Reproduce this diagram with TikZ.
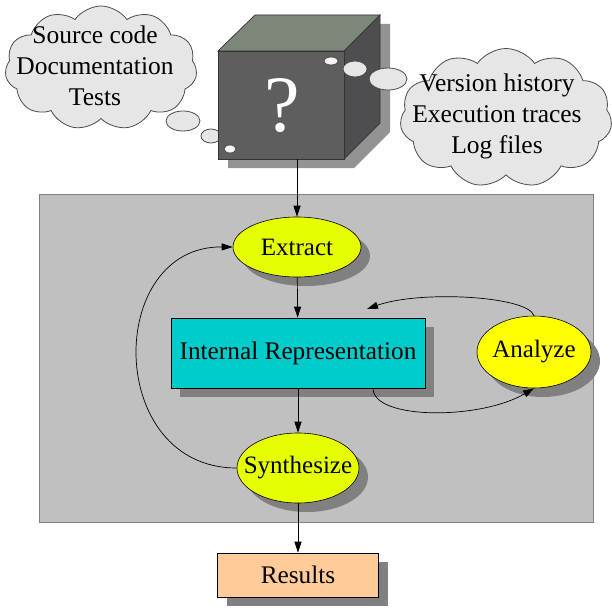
\documentclass[tikz,border=0pt]{standalone}
\usepackage{fontspec}
\setmainfont{Liberation Serif}
\usetikzlibrary{shapes.geometric,shapes.symbols,shadows,arrows.meta}
\definecolor{cloudgray}{RGB}{230,230,230}
\definecolor{panelgray}{RGB}{192,192,192}
\definecolor{shadegray}{RGB}{128,128,128}
\definecolor{cubetop}{RGB}{126,133,121}
\definecolor{cubefront}{RGB}{94,94,94}
\definecolor{cubeside}{RGB}{78,78,80}
\definecolor{stepyellow}{RGB}{230,255,0}
\definecolor{analyzeyellow}{RGB}{255,255,0}
\definecolor{reprcyan}{RGB}{0,204,204}
\definecolor{resultpeach}{RGB}{255,204,153}

\begin{document}
\begin{tikzpicture}[x=1pt,y=-1pt]
	\tikzstyle{every node}+=[inner sep=0pt]
	\tikzstyle{thought}=[draw=black!70, fill=cloudgray, line width=0.8pt]
	\tikzstyle{cloudbox}=[thought, cloud, cloud puffs=11, cloud puff arc=110, cloud ignores aspect]
	\tikzstyle{bubble}=[thought, ellipse]
	\tikzstyle{label}=[font=\fontsize{25.5}{31}\selectfont, align=center]
	\tikzstyle{shade}=[drop shadow={shadow xshift=9pt, shadow yshift=-9pt, opacity=1, fill=shadegray}]
	\tikzstyle{stage}=[ellipse, draw, line width=0.6pt, fill=stepyellow, shade, inner xsep=-12pt, font=\fontsize{25}{30}\selectfont]
	\tikzstyle{store}=[rectangle, draw, line width=0.6pt, shade, font=\fontsize{25.3}{30}\selectfont]
	\tikzstyle{flow}=[draw, line width=0.7pt, -{Triangle[length=11pt,width=7pt]}]
	\useasboundingbox (0,0) rectangle (612,607);
	\fill [white] (0,0) rectangle (612,607);
	\node [cloudbox, minimum width=192pt, minimum height=124pt] (srccloud) at (101,68) {};
	\node [label] (srctext) at (95,66) {Source code\\Documentation\\Tests};
	\node [cloudbox, minimum width=212pt, minimum height=139pt] (runcloud) at (506,118) {};
	\node [label] (runtext) at (497,116) {Version history\\Execution traces\\Log files};
	\node [bubble, minimum width=34pt, minimum height=20pt] (srcbubbleA) at (183,121) {};
	\node [bubble, minimum width=20pt, minimum height=14pt] (srcbubbleB) at (211,136) {};
	\fill [shadegray!85] (228,60) -- (265,24) -- (390,24) -- (390,132) -- (354,168) -- (228,168) -- cycle;
	\draw [black!80, line width=0.7pt, fill=cubetop] (218,51) -- (255,15) -- (380,15) -- (344,51) -- cycle;
	\draw [black!80, line width=0.7pt, fill=cubeside] (344,51) -- (380,15) -- (380,123) -- (344,159) -- cycle;
	\draw [black!80, line width=0.7pt, fill=cubefront] (218,51) rectangle (344,159);
	\coordinate (cubefoot) at (297,159);
	\node [text=white, font=\fontsize{80}{80}\selectfont] (mark) at (282,106) {?};
	\node [bubble, fill=cloudgray!40, minimum width=12pt, minimum height=8pt] (srcbubbleC) at (230,149) {};
	\node [bubble, fill=cloudgray!40, minimum width=14pt, minimum height=8pt] (runbubbleA) at (331,61) {};
	\node [bubble, minimum width=24pt, minimum height=16pt] (runbubbleB) at (355,69) {};
	\node [bubble, minimum width=38pt, minimum height=22pt] (runbubbleC) at (388,79) {};
	\draw [draw=shadegray, line width=1pt, fill=panelgray] (39,194) rectangle (593,522);
	\node [stage, minimum width=128pt, minimum height=60pt] (extract) at (297,247) {Extract};
	\node [store, fill=reprcyan, minimum width=254pt, minimum height=70pt] (repr) at (298,353) {Internal Representation};
	\node [stage, minimum width=122pt, minimum height=70pt] (synth) at (298,468) {Synthesize};
	\node [stage, fill=analyzeyellow, minimum width=114pt, minimum height=72pt] (analyze) at (534,352) {Analyze};
	\node [store, fill=resultpeach, minimum width=161pt, minimum height=44pt] (results) at (298,575) {Results};
	\draw [flow] (cubefoot) -- (cubefoot |- extract.north);
	\draw [flow] (extract) -- (repr);
	\draw [flow] (repr) -- (synth);
	\draw [flow] (synth) -- (results);
	\draw [flow] (synth.west) .. controls (105,468) and (105,246) .. (extract.west);
	\draw [flow] (analyze.north) .. controls (528,296) and (420,290) .. (367,309);
	\draw [flow] ([xshift=75pt]repr.south) .. controls (373,420) and (480,420) .. (analyze.south);
\end{tikzpicture}
\end{document}
